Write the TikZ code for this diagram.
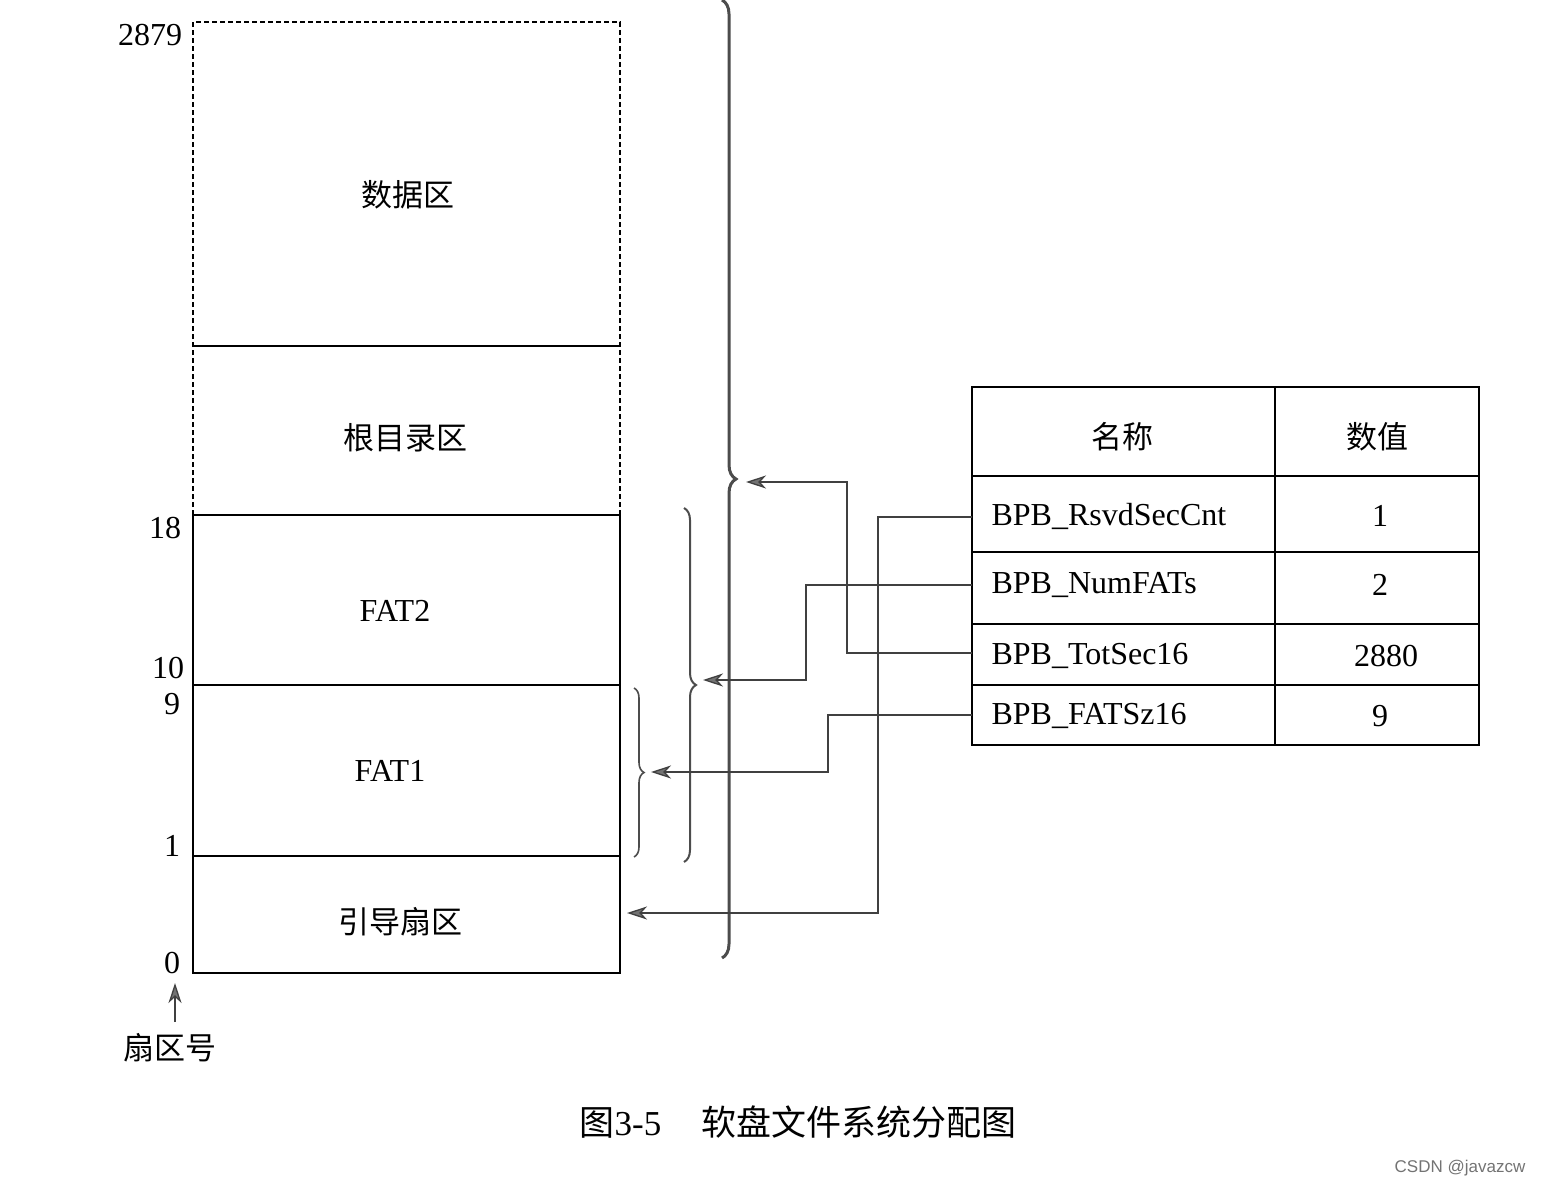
\documentclass[tikz,border=0pt]{standalone}
\usepackage{fontspec}
\setmainfont{Liberation Serif}
\newfontfamily\cjk{Noto Sans CJK SC}
\usetikzlibrary{decorations.pathreplacing,arrows.meta}
\begin{document}
\begin{tikzpicture}[x=1pt,y=-1pt,
  lbl/.style={font=\fontsize{32}{34}\selectfont},
  zh/.style={font=\cjk\fontsize{31}{33}\selectfont},
  conn/.style={line width=1.3pt,draw=black!75},
  arr/.style={conn,-{Stealth[length=20pt,width=13pt,inset=6pt,fill=black!55]}},
  br/.style={decorate,decoration={brace,amplitude=12pt},line width=2pt,draw=black!70}]
\useasboundingbox (0,0) rectangle (1544,1188);
% left column
\draw[dash pattern=on 5pt off 3pt,line width=1.2pt] (193,515) -- (193,22) -- (620,22) -- (620,515);
\draw[line width=1.2pt] (193,346) -- (620,346);
\draw[line width=1.5pt] (193,515) rectangle (620,973);
\draw[line width=1.5pt] (193,685) -- (620,685) (193,856) -- (620,856);
\node[zh] (d) at (408,195) {数据区};
\node[zh] (r) at (405,438) {根目录区};
\node[lbl] (f2) at (395,611) {FAT2};
\node[lbl] (f1) at (390,771) {FAT1};
\node[zh] (b) at (400,922) {引导扇区};
\node[lbl] at (150,35) {2879};
\node[lbl] at (165,528) {18};
\node[lbl] at (168,668) {10};
\node[lbl] at (172,704) {9};
\node[lbl] at (172,846) {1};
\node[lbl] at (172,963) {0};
\node[zh] (sn) at (170,1048) {扇区号};
\coordinate (snt) at (175,983);
\draw[arr] (175,1022) -- (snt);
% braces
\draw[br,line width=3pt,decoration={amplitude=14pt}] (722,0) -- (722,958);
\draw[br,line width=2pt] (684,508) -- (684,862);
\draw[br,line width=1.6pt,decoration={amplitude=10pt}] (634,688) -- (634,857);
% table
\foreach \y/\h in {387/89,476/76,552/72,624/61,685/60}{
  \draw[line width=1.5pt] (972,\y) rectangle ++(303,\h);
  \draw[line width=1.5pt] (1275,\y) rectangle ++(204,\h);}
\node[zh] at (1122,437) {名称};
\node[zh] at (1377,437) {数值};
\node[lbl,anchor=west] (t1) at (988,516) {BPB\_RsvdSecCnt};
\node[lbl,anchor=west] (t2) at (988,585) {BPB\_NumFATs};
\node[lbl,anchor=west] (t3) at (988,656) {BPB\_TotSec16};
\node[lbl,anchor=west] (t4) at (988,716) {BPB\_FATSz16};
\node[lbl] at (1380,516) {1};
\node[lbl] at (1380,585) {2};
\node[lbl] at (1386,656) {2880};
\node[lbl] at (1380,716) {9};
\coordinate (a1) at (627,913);
\coordinate (a2) at (703,680);
\coordinate (a3) at (746,482);
\coordinate (a4) at (651,772);
\draw[arr] (972,517) -- (878,517) -- (878,913) -- (a1);
\draw[arr] (972,585) -- (806,585) -- (806,680) -- (a2);
\draw[arr] (972,653) -- (847,653) -- (847,482) -- (a3);
\draw[arr] (972,715) -- (828,715) -- (828,772) -- (a4);
\node[font=\cjk\fontsize{35}{37}\selectfont] (cap) at (798,1122) {图\fontspec{Liberation Serif}3-5\hspace{40pt}\cjk 软盘文件系统分配图};
\node[font=\fontspec{Liberation Sans}\fontsize{17}{18}\selectfont,text=black!55] at (1460,1168) {CSDN @javazcw};
\end{tikzpicture}
\end{document}
